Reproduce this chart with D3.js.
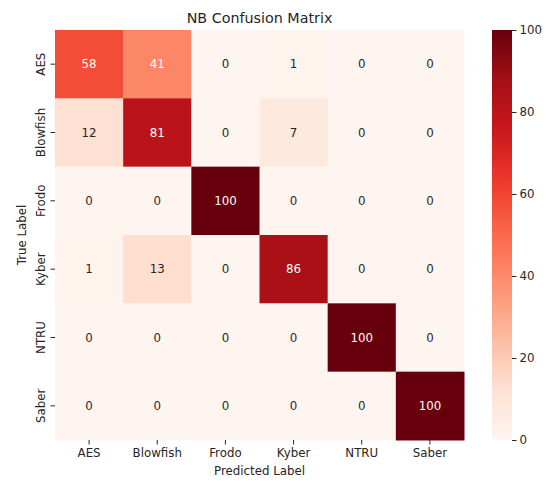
<!DOCTYPE html>
<html>
<head>
<meta charset="utf-8">
<script src="https://cdn.jsdelivr.net/npm/d3@7"></script>
<style>
  body { margin: 0; background: #fff; }
  text { font-family: "DejaVu Sans", sans-serif; fill: #262626; }
</style>
</head>
<body>
<svg id="chart" width="551" height="481"></svg>
<script>
// labels and values
var classes = ["AES", "Blowfish", "Frodo", "Kyber", "NTRU", "Saber"];
var matrix = [
  [58, 41, 0, 1, 0, 0],
  [12, 81, 0, 7, 0, 0],
  [0, 0, 100, 0, 0, 0],
  [1, 13, 0, 86, 0, 0],
  [0, 0, 0, 0, 100, 0],
  [0, 0, 0, 0, 0, 100]
];
var cbarTicks = [0, 20, 40, 60, 80, 100];
var redsStops = ["#fff5f0","#fee0d2","#fcbba1","#fc9272","#fb6a4a","#ef3b2c","#cb181d","#a50f15","#67000d"];

var margin = {left: 55, top: 30},
    width = 409,
    height = 410;
var fs = "11.8px";

var svg = d3.select("#chart");

// colour scale like matplotlib Reds
var color = d3.scaleLinear()
    .domain(redsStops.map(function(d, i){ return i / (redsStops.length - 1) * 100; }))
    .range(redsStops)
    .interpolate(d3.interpolateRgb);

var x = d3.scaleBand().domain(classes).range([0, width]);
var y = d3.scaleBand().domain(classes).range([0, height]);

var g = svg.append("g")
    .attr("transform", "translate(" + margin.left + "," + margin.top + ")");

// flatten the cells
var cells = [];
matrix.forEach(function(row, i){
  row.forEach(function(v, j){
    cells.push({t: classes[i], p: classes[j], v: v});
  });
});

g.selectAll(".cell")
  .data(cells)
  .enter().append("rect")
  .attr("class", "cell")
  .attr("x", function(d){ return x(d.p); })
  .attr("y", function(d){ return y(d.t); })
  .attr("width", x.bandwidth() + 0.5)
  .attr("height", y.bandwidth() + 0.5)
  .attr("fill", function(d){ return color(d.v); });

// annotation text, white on dark cells
function lum(c){
  var r = d3.rgb(c);
  var f = function(u){ u = u / 255; return u <= 0.03928 ? u / 12.92 : Math.pow((u + 0.055) / 1.055, 2.4); };
  return 0.2126 * f(r.r) + 0.7152 * f(r.g) + 0.0722 * f(r.b);
}

g.selectAll(".ann")
  .data(cells)
  .enter().append("text")
  .attr("x", function(d){ return x(d.p) + x.bandwidth() / 2; })
  .attr("y", function(d){ return y(d.t) + y.bandwidth() / 2; })
  .attr("dy", "0.35em")
  .attr("text-anchor", "middle")
  .style("font-size", fs)
  .style("fill", function(d){ return lum(color(d.v)) > 0.408 ? "#262626" : "#ffffff"; })
  .text(function(d){ return d.v; });

// x axis
var xAxis = g.append("g")
  .attr("transform", "translate(0," + height + ")")
  .call(d3.axisBottom(x).tickSize(4.5).tickPadding(4));
xAxis.select(".domain").remove();
xAxis.selectAll("line").attr("stroke", "#262626").attr("stroke-width", 1);
xAxis.selectAll("text").style("font-size", fs).style("font-family", "DejaVu Sans").attr("fill", "#262626");

// y axis with rotated labels
var yAxis = g.append("g")
  .call(d3.axisLeft(y).tickSize(4.5).tickPadding(4));
yAxis.select(".domain").remove();
yAxis.selectAll("line").attr("stroke", "#262626").attr("stroke-width", 1);
yAxis.selectAll("text")
  .style("font-size", fs)
  .style("font-family", "DejaVu Sans")
  .attr("fill", "#262626")
  .attr("text-anchor", "middle")
  .attr("x", 0).attr("dy", 0)
  .attr("transform", "translate(-10,0) rotate(-90)");

// axis titles
svg.append("text")
  .attr("x", margin.left + width / 2)
  .attr("y", 475)
  .attr("text-anchor", "middle")
  .style("font-size", fs)
  .text("Predicted Label");

svg.append("text")
  .attr("transform", "translate(26," + (margin.top + height / 2) + ") rotate(-90)")
  .attr("text-anchor", "middle")
  .style("font-size", fs)
  .text("True Label");

svg.append("text")
  .attr("x", margin.left + width / 2)
  .attr("y", 23)
  .attr("text-anchor", "middle")
  .style("font-size", "14.3px")
  .text("NB Confusion Matrix");

// colorbar
var cbX = 492, cbW = 20;
var cy = d3.scaleLinear().domain([0, 100]).range([margin.top + height, margin.top]);

var defs = svg.append("defs");
var grad = defs.append("linearGradient")
  .attr("id", "redsgrad")
  .attr("x1", 0).attr("y1", 1).attr("x2", 0).attr("y2", 0);
grad.selectAll("stop")
  .data(redsStops)
  .enter().append("stop")
  .attr("offset", function(d, i){ return i / (redsStops.length - 1); })
  .attr("stop-color", function(d){ return d; });

svg.append("rect")
  .attr("x", cbX).attr("y", margin.top)
  .attr("width", cbW).attr("height", height)
  .attr("fill", "url(#redsgrad)");

var cbAxis = svg.append("g")
  .attr("transform", "translate(" + (cbX + cbW) + ",0)")
  .call(d3.axisRight(cy).tickValues(cbarTicks).tickSize(4.5).tickPadding(3));
cbAxis.select(".domain").remove();
cbAxis.selectAll("line").attr("stroke", "#262626");
cbAxis.selectAll("text").style("font-size", fs).style("font-family", "DejaVu Sans").attr("fill", "#262626");
</script>
</body>
</html>
